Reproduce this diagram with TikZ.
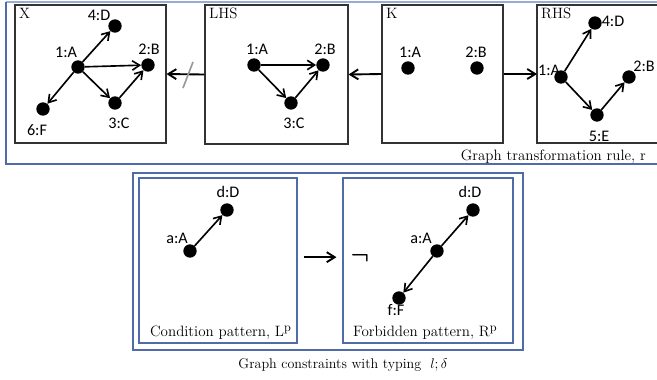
\documentclass[tikz,border=0pt]{standalone}
\usepackage{fontspec}
\newfontfamily\labelfont{Carlito}
\usetikzlibrary{arrows.meta}
\definecolor{frameblue}{RGB}{79,108,168}
\definecolor{framelight}{RGB}{150,172,212}

\begin{document}
\begin{tikzpicture}[
        x=0.03cm, y=-0.03cm,
        font=\fontsize{12.8}{14}\selectfont,
        graphbox/.style={draw=black!80, line width=0.9pt, minimum height=4.14cm, inner sep=0pt},
        patbox/.style={draw=frameblue, line width=0.9pt, minimum height=4.95cm, inner sep=0pt},
        boxtitle/.style={anchor=north west, inner sep=0pt},
        dot/.style={circle, fill=black, inner sep=0pt, minimum size=0.4cm},
        lbl/.style={font=\labelfont\fontsize{13.8}{15}\selectfont, inner sep=0pt},
        edge/.style={-{Straight Barb[length=2.2mm, width=2.8mm]}, line width=1.4pt},
        rulearrow/.style={-{Straight Barb[length=2.4mm, width=3mm]}, line width=1.6pt},
    ]
    \useasboundingbox (0,0) rectangle (657,379);

    %====================== TRANSFORMATION RULE (top) ======================
    \draw[framelight, line width=1.2pt] (6,2) -- (657,2);
    \draw[frameblue, line width=1.2pt] (6,2) -- (6,164) -- (657,164);

    \node[graphbox, minimum width=4.53cm] (x-box)   at (90.5,74) {};
    \node[graphbox, minimum width=4.29cm, minimum height=4.17cm] (lhs-box) at (276.5,74.5) {};
    \node[graphbox, minimum width=3.63cm] (k-box)   at (442.5,74) {};
    \draw[black!80, line width=0.9pt] (657,5) -- (537,5) -- (537,143) -- (657,143);
    \coordinate (rhs-w) at (537,74);

    \node[boxtitle] (x-t)   at (19,8)  {X};
    \node[boxtitle] (lhs-t) at (209,8) {LHS};
    \node[boxtitle] (k-t)   at (386,8) {K};
    \node[boxtitle] (rhs-t) at (541,8) {RHS};

    % graph X
    \foreach \n/\x/\y/\lx/\ly/\t in {x-1/78/67/66/52/1:A, x-2/148/65/149/49/2:B, x-3/115/103/119/123/3:C,
                                     x-4/115/26/99/15/4:D, x-6/43/109/37/130/6:F} {
        \node[dot] (\n) at (\x,\y) {};
        \node[lbl] (\n-l) at (\lx,\ly) {\t};
    }
    \draw[edge] (x-1) -- (x-4);
    \draw[edge] (x-1) -- (x-2);
    \draw[edge] (x-1) -- (x-3);
    \draw[edge] (x-3) -- (x-2);
    \draw[edge] (x-1) -- (x-6);

    % graph LHS
    \foreach \n/\x/\y/\lx/\ly/\t in {lhs-1/254/65/257/49/1:A, lhs-2/323/65/325/49/2:B, lhs-3/291/103/294/123/3:C} {
        \node[dot] (\n) at (\x,\y) {};
        \node[lbl] (\n-l) at (\lx,\ly) {\t};
    }
    \draw[edge] (lhs-1) -- (lhs-2);
    \draw[edge] (lhs-1) -- (lhs-3);
    \draw[edge] (lhs-3) -- (lhs-2);

    % graph K
    \foreach \n/\x/\y/\lx/\ly/\t in {k-1/408/68/410/52/1:A, k-2/477/68/476/52/2:B} {
        \node[dot] (\n) at (\x,\y) {};
        \node[lbl] (\n-l) at (\lx,\ly) {\t};
    }

    % graph RHS
    \foreach \n/\x/\y/\lx/\ly/\t in {rhs-1/561/77/549/70/1:A, rhs-2/629/77/644/66/2:B,
                                     rhs-4/595/23/613/21/4:D, rhs-5/597/115/599/136/5:E} {
        \node[dot] (\n) at (\x,\y) {};
        \node[lbl] (\n-l) at (\lx,\ly) {\t};
    }
    \draw[edge] (rhs-1) -- (rhs-4);
    \draw[edge] (rhs-1) -- (rhs-5);
    \draw[edge] (rhs-5) -- (rhs-2);

    % span arrows
    \draw[rulearrow] (lhs-box.west) -- (x-box.east);
    \draw[black!40, line width=1.4pt] (183,88) -- (193,62);
    \draw[rulearrow] (k-box.west) -- (lhs-box.east);
    \draw[rulearrow] (k-box.east) -- (rhs-w);

    \node[anchor=base east] (rule-cap) at (650,160) {Graph transformation rule, r};

    %====================== GRAPH CONSTRAINT (bottom) ======================
    \draw[frameblue, line width=1.2pt] (133,173) rectangle (523,350);

    \node[patbox, minimum width=4.74cm] (cond-box) at (218,260.5) {};
    \node[patbox, minimum width=5.1cm]  (forb-box) at (428,260.5) {};

    \foreach \n/\x/\y/\lx/\ly/\t in {cond-a/190/251/177/238/a:A, cond-d/227/210/228/192/d:D,
                                     forb-a/437/251/421/238/a:A, forb-d/473/210/470/192/d:D, forb-f/399/298/396/310/f:F} {
        \node[dot] (\n) at (\x,\y) {};
        \node[lbl] (\n-l) at (\lx,\ly) {\t};
    }
    \draw[edge] (cond-a) -- (cond-d);
    \draw[edge] (forb-a) -- (forb-d);
    \draw[edge] (forb-a) -- (forb-f);

    \draw[rulearrow, shorten <=0.18cm, shorten >=0.18cm] ([yshift=0.1cm]cond-box.east) -- ([yshift=0.1cm]forb-box.west);
    \node[font=\fontsize{22}{22}\selectfont\boldmath, inner sep=0pt] (neg) at (360,258) {$\neg$};

    \node[anchor=base west] (cond-cap) at (146,336) {Condition pattern, L\raisebox{0.7ex}{\fontsize{10.5}{10.5}\selectfont p}};
    \node[anchor=base west] (forb-cap) at (349,336) {Forbidden pattern, R\raisebox{0.7ex}{\fontsize{10.5}{10.5}\selectfont p}};

    \node[anchor=base, font=\fontsize{12}{14}\selectfont] (typing-cap) at (343,368) {Graph constraints with typing~~$l;\delta$};

\end{tikzpicture}
\end{document}
